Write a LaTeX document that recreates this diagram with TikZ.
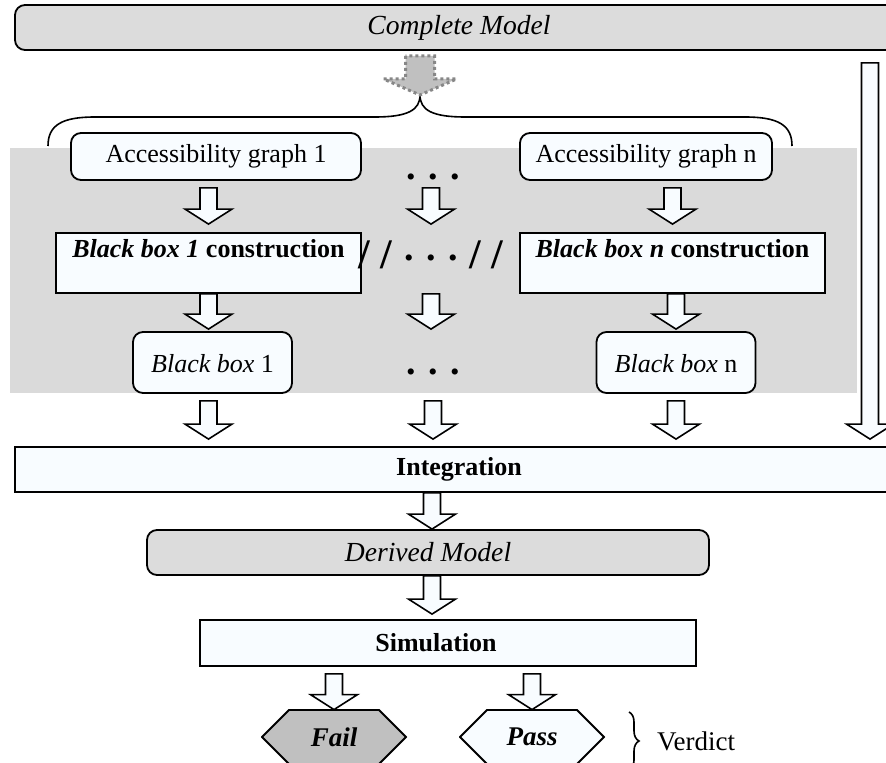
\documentclass[tikz,border=0pt]{standalone}
\usepackage{fontspec}
\setmainfont{Liberation Serif}
\usetikzlibrary{positioning}
\usetikzlibrary{calc}
\usetikzlibrary{decorations.pathreplacing}
\definecolor{panel}{RGB}{218,218,218}
\definecolor{model}{RGB}{220,220,220}
\definecolor{paper}{RGB}{248,252,255}
\definecolor{failgray}{RGB}{192,192,192}
\definecolor{dotgray}{RGB}{135,135,135}
\definecolor{splitgray}{RGB}{192,192,192}
\newcommand{\basesize}{\fontsize{13}{15.6}\selectfont}
\newcommand{\bigslash}{{\fontsize{21}{25}\selectfont/\hspace{5pt}/}}

\tikzset{
  box/.style={draw, line width=0.9pt, fill=paper, inner sep=2pt, font=\basesize},
  roundbox/.style={box, rounded corners=5pt},
  modelbox/.style={roundbox, fill=model, font=\fontsize{13.8}{16}\selectfont\itshape},
  verdictbox/.style={minimum width=73pt, minimum height=28pt, inner sep=0pt,
    font=\fontsize{13.5}{16}\selectfont\bfseries\itshape,
    path picture={\draw[line width=0.9pt, fill=#1]
      ([xshift=0.5pt]path picture bounding box.west)
      -- ([xshift=14pt,yshift=-0.5pt]path picture bounding box.north west)
      -- ([xshift=-14pt,yshift=-0.5pt]path picture bounding box.north east)
      -- ([xshift=-0.5pt]path picture bounding box.east)
      -- ([xshift=-14pt,yshift=0.5pt]path picture bounding box.south east)
      -- ([xshift=14pt,yshift=0.5pt]path picture bounding box.south west) -- cycle;}},
  dotsfont/.style={font=\fontsize{19}{22}\selectfont\bfseries, inner sep=0pt},
  arrowshape/.style n args={3}{to path={let \p1=(\tikztostart), \p2=(\tikztotarget) in
    (\x1-#1,\y1) -- (\x1-#1,\y2+#3) -- (\x1-#2,\y2+#3) -- (\x1,\y2)
    -- (\x1+#2,\y2+#3) -- (\x1+#1,\y2+#3) -- (\x1+#1,\y1) -- cycle}},
  blockarrow/.style={draw, line width=0.8pt, fill=paper, arrowshape={4.25pt}{11.75pt}{7.5pt}},
  splitarrow/.style={draw=dotgray, line width=1.5pt, dash pattern=on 1.5pt off 1.5pt,
    fill=splitgray, arrowshape={7.25pt}{18.25pt}{8pt}},
}

\begin{document}
\begin{tikzpicture}[x=0.5pt, y=-0.5pt, font=\basesize]

  \clip (0,0) rectangle (886,763);

  % shaded panel
  \fill[panel] (10,148) rectangle (857,393);

  \node[modelbox, minimum width=444pt, minimum height=22.5pt] (cm) at (459,27.5) {Complete Model};

  \coordinate (split) at (420,95);
  \coordinate (bypass) at (870,0);
  \coordinate (trunk) at (432,0);

  \node[roundbox, minimum width=145pt, minimum height=23.5pt] (ag1) at (216,156.5) {Accessibility graph 1};
  \node[roundbox, minimum width=126pt, minimum height=23.5pt] (agn) at (646,156.5) {Accessibility graph n};
  \node[dotsfont] (dotsa) at (433,177) {. . .};

  \node[box, minimum width=152.5pt, minimum height=30pt, font=\basesize\bfseries,
    text height=9pt, text depth=14pt] (bbc1) at (208.5,263) {\textit{Black box 1} construction};
  \node[box, minimum width=152.5pt, minimum height=30pt, font=\basesize\bfseries,
    text height=9pt, text depth=14pt] (bbcn) at (672.5,263) {\textit{Black box n} construction};
  \node[dotsfont] (sep) at (431,255)
    {\bigslash\hspace{6pt}\raisebox{4.25pt}{. . .}\hspace{6pt}\bigslash};

  \node[roundbox, minimum width=79.5pt, minimum height=30.5pt,
    text height=13pt, text depth=3pt] (bb1) at (212.5,362.5) {\textit{Black box} 1};
  \node[roundbox, minimum width=79.5pt, minimum height=30.5pt,
    text height=13pt, text depth=3pt] (bbn) at (676,362.5) {\textit{Black box} n};
  \node[dotsfont] (dotsb) at (433,372) {. . .};

  \node[box, minimum width=444pt, minimum height=22.5pt, font=\basesize\bfseries]
    (integ) at (459,469.5) {Integration};

  \node[modelbox, minimum width=281pt, minimum height=22.5pt] (dm) at (428,552.5) {Derived Model};
  \node[box, minimum width=248pt, minimum height=23pt] (sim) at (448,643) {};
  \node[font=\basesize\bfseries] (simtext) at (436,643) {Simulation};

  \node[verdictbox=failgray] (fail) at (334,737) {Fail};
  \node[verdictbox=paper] (pass) at (532,737) {Pass};

  % split of the complete model
  \draw[line width=0.8pt] (48,146) .. controls (48,125) and (62,117) .. (95,117) -- (375,117)
    .. controls (408,117) and (420,110) .. (split)
    .. controls (420,110) and (432,117) .. (465,117) -- (745,117)
    .. controls (778,117) and (792,125) .. (792,146);
  \draw[splitarrow] ([yshift=-2.5pt]cm.south -| split) to (split);

  \draw[blockarrow] ([yshift=-3.5pt]ag1.south -| bbc1.north) to ([yshift=4pt]bbc1.north);
  \draw[blockarrow] ([yshift=-3.5pt]ag1.south -| sep.north) to ([yshift=4pt]bbc1.north);
  \draw[blockarrow] ([yshift=-3.5pt]agn.south -| bbcn.north) to ([yshift=4pt]bbcn.north);

  \draw[blockarrow] (bbc1.south) to ([yshift=1pt]bb1.north);
  \draw[blockarrow] (bbc1.south -| sep.south) to ([yshift=1pt]bb1.north);
  \draw[blockarrow] (bbcn.south -| bbn.north) to ([yshift=1pt]bbn.north);

  \draw[blockarrow] ([yshift=-3.5pt]bb1.south -| bbc1.south) to ([yshift=3.5pt]integ.north);
  \draw[blockarrow] ([yshift=-3.5pt]bb1.south -| dotsb.south) to ([yshift=3.5pt]integ.north);
  \draw[blockarrow] ([yshift=-3.5pt]bbn.south) to ([yshift=3.5pt]integ.north);
  \draw[blockarrow] ([yshift=-6pt]cm.south -| bypass) to ([yshift=3.5pt]integ.north);

  \draw[blockarrow] (integ.south -| trunk) to (dm.north);
  \draw[blockarrow] (dm.south -| trunk) to ([yshift=2.5pt]sim.north);
  \draw[blockarrow] ([yshift=-3.5pt]sim.south -| fail.north) to ([yshift=-0.5pt]fail.north);
  \draw[blockarrow] ([yshift=-3.5pt]sim.south -| pass.north) to ([yshift=-0.5pt]pass.north);

  % verdict
  \draw[decorate, decoration={brace, amplitude=5pt}, line width=0.8pt] (629,712) -- (629,770);
  \node[anchor=west, font=\fontsize{13.5}{16}\selectfont] (verdict) at (650,741) {Verdict};

\end{tikzpicture}
\end{document}
